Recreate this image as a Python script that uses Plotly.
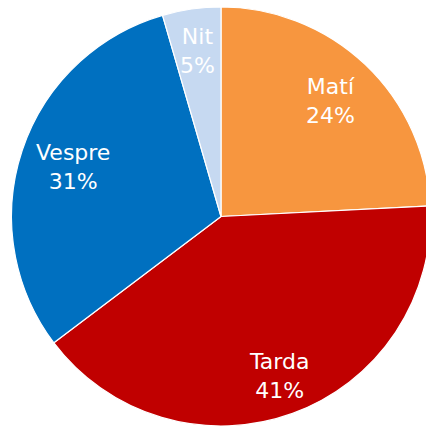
import math
import plotly.graph_objects as go

labels = ["Matí", "Tarda", "Vespre", "Nit"]
values = [24.2, 40.5, 30.8, 4.5]
colors = ["#F7963F", "#C00000", "#0070C0", "#C6D9F1"]

W, H = 442, 433
MT, MB = 7, 7

fig = go.Figure(go.Pie(
    labels=labels, values=values, sort=False, direction="clockwise", rotation=0,
    marker=dict(colors=colors, line=dict(color="white", width=1.2)),
    textinfo="none", hoverinfo="skip", showlegend=False,
    domain=dict(x=[0, 1], y=[0, 1]),
))

# label positions derived from slice mid-angles
total = sum(values)
cx, cy = W / 2, MT + (H - MT - MB) / 2
R = (H - MT - MB) / 2
rfrac = [0.76, 0.81, 0.745, 0.80]
cum = 0
for lab, v, rf in zip(labels, values, rfrac):
    mid = (cum + v / 2) / total * 2 * math.pi
    cum += v
    px = cx + rf * R * math.sin(mid)
    py = cy - rf * R * math.cos(mid)
    pct = math.floor(v / total * 100 + 0.5 + 1e-9)
    fig.add_annotation(
        x=px / W, y=1 - (py - MT) / (H - MT - MB), xref="paper", yref="paper",
        text=f"{lab}<br>{pct}%", showarrow=False,
        font=dict(family="DejaVu Sans", size=22, color="white"),
        xanchor="center", yanchor="middle",
    )

fig.update_layout(
    width=W, height=H, margin=dict(l=0, r=0, t=MT, b=MB),
    paper_bgcolor="white", plot_bgcolor="white",
)
fig.write_html("out.html", config={"displayModeBar": False},
               post_script="document.body.style.overflow='hidden';document.body.style.margin='0';")
